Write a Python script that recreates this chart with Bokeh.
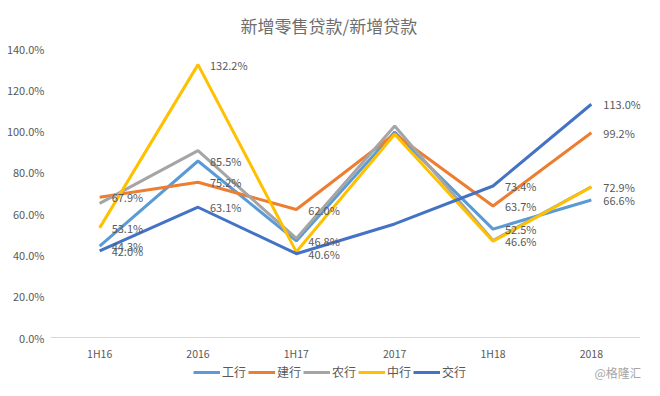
from bokeh.plotting import figure
from bokeh.models import FactorRange, Range1d, Legend, LegendItem, LabelSet, ColumnDataSource, Label
from bokeh.core.properties import value
from bokeh.embed import file_html
from bokeh.resources import INLINE

periods = ["1H16", "2016", "1H17", "2017", "1H18", "2018"]
names = ["工行", "建行", "农行", "中行", "交行"]
icbc = [44.3, 85.5, 46.8, 99.5, 52.5, 66.6]
ccb = [67.9, 75.2, 62.0, 98.6, 63.7, 99.2]
abc = [65.0, 90.5, 48.0, 102.5, 47.0, 73.0]
boc = [53.1, 132.2, 41.5, 98.5, 46.6, 72.9]
bocom = [42.0, 63.1, 40.6, 55.0, 73.4, 113.0]
# which points carry a data label
icbc_lab = [1, 1, 1, 0, 1, 1]
ccb_lab = [1, 1, 1, 0, 1, 1]
abc_lab = [0, 0, 0, 0, 0, 0]
boc_lab = [1, 1, 0, 0, 1, 1]
bocom_lab = [1, 1, 1, 0, 1, 1]
yticks = [0, 20, 40, 60, 80, 100, 120, 140]

series = [icbc, ccb, abc, boc, bocom]
flags = [icbc_lab, ccb_lab, abc_lab, boc_lab, bocom_lab]
colors = ["#5B9BD5", "#ED7D31", "#A5A5A5", "#FFC000", "#4472C4"]
FONT = "Noto Sans CJK SC"
GREY = "#595959"

W, H = 644, 380
LEFT, RIGHT, TOP, BOTTOM = 50, 4, 48, 0
ZERO_Y = 337  # pixel row of 0%
px_per_unit = (ZERO_Y - TOP) / 140.0
ymin = -(H - ZERO_Y) / px_per_unit

p = figure(width=W, height=H, x_range=FactorRange(*periods, range_padding=0),
           y_range=Range1d(ymin, 140), output_backend="svg", toolbar_location=None,
           min_border_left=LEFT, min_border_right=RIGHT, min_border_top=TOP, min_border_bottom=BOTTOM,
           title="新增零售贷款/新增贷款")
p.title.align = "left"
p.title.offset = 190
p.title.standoff = 21
p.title.text_font = FONT
p.title.text_font_size = "17px"
p.title.text_font_style = "normal"
p.title.text_color = "#6E6E6E"
p.outline_line_color = None
p.xgrid.grid_line_color = None
p.ygrid.grid_line_color = None

p.yaxis.ticker = yticks
p.yaxis.major_label_overrides = {t: f"{t:.1f}%" for t in yticks}
p.yaxis.axis_line_color = None
p.yaxis.major_tick_line_color = None
p.yaxis.major_tick_out = 0
p.yaxis.major_tick_in = 0
p.yaxis.minor_tick_line_color = None
p.yaxis.major_label_text_font = FONT
p.yaxis.major_label_text_font_size = "11px"
p.yaxis.major_label_text_color = GREY
p.yaxis.major_label_standoff = 6

p.xaxis.fixed_location = 0
p.xaxis.axis_line_color = "#D9D9D9"
p.xaxis.axis_line_width = 1
p.xaxis.major_tick_line_color = None
p.xaxis.major_tick_out = 0
p.xaxis.major_tick_in = 0
p.xaxis.minor_tick_line_color = None
p.xaxis.major_label_text_font = FONT
p.xaxis.major_label_text_font_size = "10.5px"
p.xaxis.major_label_text_color = GREY
p.xaxis.major_label_standoff = 8

items = []
for name, vals, col in zip(names, series, colors):
    r = p.line(periods, vals, line_color=col, line_width=3)
    items.append(LegendItem(label=name, renderers=[r]))

for vals, fl in zip(series, flags):
    xs = [x for x, f in zip(periods, fl) if f]
    ys = [v for v, f in zip(vals, fl) if f]
    txt = [f"{v:.1f}%" for v in ys]
    src = ColumnDataSource(dict(x=xs, y=ys, t=txt))
    p.add_layout(LabelSet(x="x", y="y", text="t", source=src, x_offset=12, y_offset=0,
                          text_baseline="middle", text_font=value(FONT),
                          text_font_size=value("11px"), text_color=value(GREY)))

legend = Legend(items=items, orientation="horizontal", location=(143, 0),
                label_text_font=FONT, label_text_font_size="12px", label_text_color=GREY,
                glyph_width=27, glyph_height=12, label_height=12, label_standoff=2,
                spacing=2, padding=0, margin=0, border_line_color=None,
                background_fill_alpha=0)
p.add_layout(legend, "center")

p.add_layout(Label(x=6, y=0, x_offset=-46, y_offset=-35, text="@格隆汇", text_align="left",
                   text_baseline="middle", text_font=FONT, text_font_size="12px",
                   text_color="#A6A6A6"))

open("out.html", "w").write(file_html(p, INLINE))
